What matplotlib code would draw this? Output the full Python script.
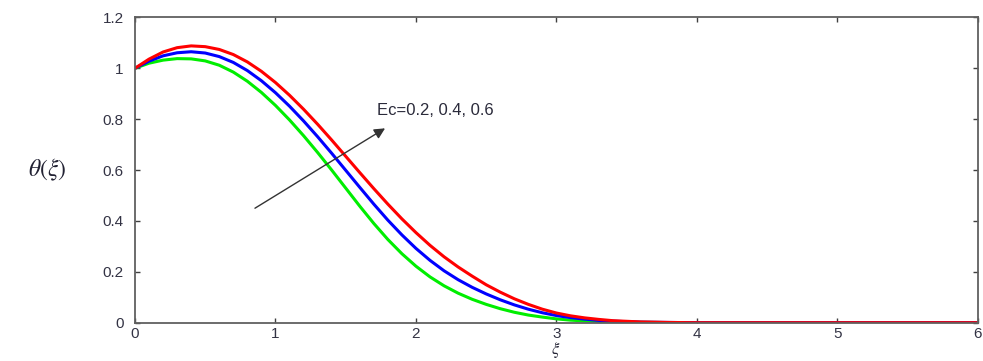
import numpy as np
import matplotlib
matplotlib.use('Agg')
import matplotlib.pyplot as plt

# values
xi = [0, 0.1, 0.2, 0.3, 0.4, 0.5, 0.6, 0.7, 0.8, 0.9,
      1.0, 1.1, 1.2, 1.3, 1.4, 1.5, 1.6, 1.7, 1.8, 1.9,
      2.0, 2.1, 2.2, 2.3, 2.4, 2.5, 2.6, 2.7, 2.8, 2.9,
      3.0, 3.1, 3.2, 3.3, 3.4, 3.6, 3.8, 4.0, 5.0, 6.0]

theta_ec02 = [1.0, 1.02, 1.032, 1.038, 1.037, 1.029, 1.012, 0.985, 0.949, 0.905,
              0.854, 0.797, 0.735, 0.669, 0.600, 0.529, 0.458, 0.390, 0.327, 0.271,
              0.222, 0.180, 0.145, 0.116, 0.092, 0.072, 0.055, 0.041, 0.030, 0.022,
              0.015, 0.010, 0.007, 0.005, 0.003, 0.0015, 0.0005, 0.0, 0.0, 0.0]
theta_ec04 = [1.0, 1.028, 1.049, 1.061, 1.065, 1.060, 1.046, 1.023, 0.991, 0.951,
              0.904, 0.851, 0.793, 0.731, 0.666, 0.599, 0.532, 0.466, 0.403, 0.345,
              0.292, 0.245, 0.204, 0.169, 0.139, 0.113, 0.090, 0.070, 0.053, 0.039,
              0.028, 0.020, 0.014, 0.009, 0.006, 0.002, 0.001, 0.0, 0.0, 0.0]
theta_ec06 = [1.0, 1.036, 1.064, 1.081, 1.088, 1.085, 1.074, 1.054, 1.025, 0.988,
              0.944, 0.894, 0.839, 0.780, 0.718, 0.654, 0.590, 0.527, 0.466, 0.408,
              0.354, 0.304, 0.259, 0.219, 0.183, 0.149, 0.120, 0.094, 0.072, 0.053,
              0.038, 0.027, 0.019, 0.013, 0.008, 0.003, 0.001, 0.0, 0.0, 0.0]

xticks = [0, 1, 2, 3, 4, 5, 6]
yticks = [0, 0.2, 0.4, 0.6, 0.8, 1.0, 1.2]
yticklabels = ['0', '0.2', '0.4', '0.6', '0.8', '1', '1.2']

plt.rcParams['font.family'] = ['Liberation Sans', 'DejaVu Sans']
plt.rcParams['mathtext.fontset'] = 'stix'

fig = plt.figure(figsize=(9.83, 3.61), dpi=100)
ax = fig.add_axes([0.1373, 0.1061, 0.8576, 0.8457])

ax.plot(xi, theta_ec02, color='#00ee00', lw=2.2, solid_joinstyle='round')
ax.plot(xi, theta_ec04, color='#0000ff', lw=2.2, solid_joinstyle='round')
ax.plot(xi, theta_ec06, color='#ff0000', lw=2.2, solid_joinstyle='round')

ax.set_xlim(0, 6)
ax.set_ylim(0, 1.2)
ax.set_xticks(xticks)
ax.set_yticks(yticks)
ax.set_yticklabels(yticklabels)

for s in ax.spines.values():
    s.set_color('#606060')
    s.set_linewidth(1.3)
ax.tick_params(direction='in', top=True, right=True, length=3.5, width=1,
               color='#404040', labelsize=11, labelcolor='#333344')
ax.tick_params(axis='y', pad=8)
ax.tick_params(axis='x', pad=3)

# arrow + annotation
ax.annotate('', xy=(1.78, 0.764), xytext=(0.854, 0.45),
            arrowprops=dict(arrowstyle='-|>', color='#333333', lw=1.0,
                            mutation_scale=16, shrinkA=0, shrinkB=0))
ax.text(1.72, 0.836, 'Ec=0.2, 0.4, 0.6', fontsize=12, color='#2a2a3a',
        ha='left', va='center')

# axis labels
fig.text(47 / 983, 1 - 170 / 361, r'$\theta(\xi)$', fontsize=17,
         ha='center', va='center', color='#222233')
fig.text(556 / 983, 0.002, r'$\xi$', fontsize=12,
         ha='center', va='bottom', color='#222233')

fig.savefig('out.png', dpi=100)
